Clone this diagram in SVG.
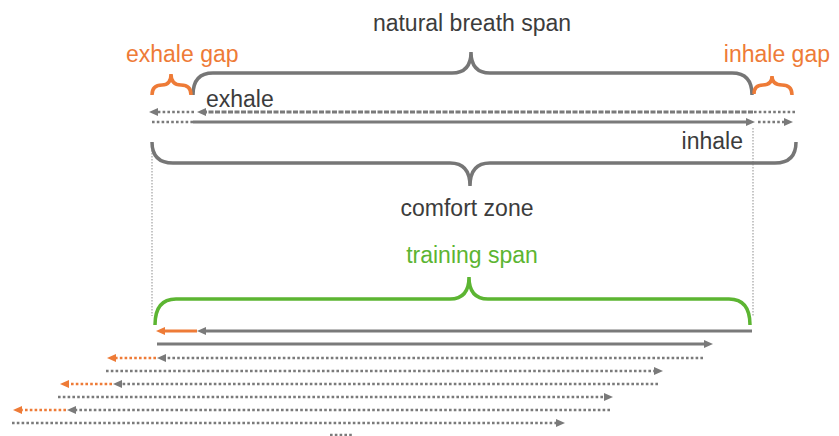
<svg xmlns="http://www.w3.org/2000/svg" width="839" height="436" viewBox="0 0 839 436">
  <style>
    text { font-family: "Liberation Sans", Arial, sans-serif; font-size: 23px; }
    .lbl { fill: #3c3c3c; }
    .org { fill: #ee7b37; }
    .grn { fill: #5cb532; }
    .brace { fill: none; stroke: #767676; stroke-width: 3.5; stroke-linecap: butt; }
    .brace-o { fill: none; stroke: #ee7b37; stroke-width: 3.5; }
    .brace-g { fill: none; stroke: #5cb532; stroke-width: 3.5; }
    .solid { stroke: #7a7a7a; stroke-width: 3; fill: none; }
    .dash { stroke: #7a7a7a; stroke-width: 3; fill: none; stroke-dasharray: 5 1.5; }
    .dot { stroke: #7a7a7a; stroke-width: 2.6; fill: none; stroke-dasharray: 2.6 2.2; }
    .dot-o { stroke: #ee7b37; stroke-width: 2.6; fill: none; stroke-dasharray: 2.6 2.2; }
    .solid-o { stroke: #ee7b37; stroke-width: 3; fill: none; }
    .guide { stroke: #b4b4b4; stroke-width: 1.5; fill: none; stroke-dasharray: 1.5 1.5; }
  </style>
  <defs>
    <marker id="ag" viewBox="0 0 9 8" markerWidth="9" markerHeight="8" refX="2" refY="4" orient="auto" markerUnits="userSpaceOnUse">
      <path d="M0,0 L9,4 L0,8 z" fill="#7a7a7a"/>
    </marker>
    <marker id="ao" viewBox="0 0 9 8" markerWidth="9" markerHeight="8" refX="2" refY="4" orient="auto" markerUnits="userSpaceOnUse">
      <path d="M0,0 L9,4 L0,8 z" fill="#ee7b37"/>
    </marker>
  </defs>

  <!-- vertical guides -->
  <g id="guides">
    <line class="guide" x1="152" y1="150" x2="152" y2="316"/>
    <line class="guide" x1="753" y1="128" x2="753" y2="316"/>
  </g>

  <!-- braces -->
  <g id="natural-breath-span">
    <path class="brace" d="M193,95 Q193,73 213,73 L452,73 Q471,73 471,52 Q471,73 490,73 L732,73 Q752,73 752,95"/>
    <text class="lbl" x="472" y="31" text-anchor="middle">natural breath span</text>
  </g>
  <g id="exhale-gap">
    <path class="brace-o" d="M152,95 Q152,85 162,85 Q171,85 171,74 Q171,85 181,85 Q191,85 191,95"/>
    <text class="org" x="126" y="62">exhale gap</text>
  </g>
  <g id="inhale-gap">
    <path class="brace-o" d="M754,94 Q754,85 763,85 Q772,85 772,76 Q772,85 782,85 Q792,85 792,95"/>
    <text class="org" x="830" y="62" text-anchor="end">inhale gap</text>
  </g>
  <g id="comfort-zone">
    <path class="brace" d="M152,142 Q152,163 173,163 L450,163 Q470,163 470,186 Q470,163 490,163 L775,163 Q796,163 796,142"/>
    <text class="lbl" x="467" y="216" text-anchor="middle">comfort zone</text>
  </g>
  <g id="training-span">
    <path class="brace-g" d="M155,325 Q155,299 176,299 L450,299 Q469,299 469,277 Q469,299 488,299 L729,299 Q750,299 750,325"/>
    <text class="grn" x="472" y="263" text-anchor="middle">training span</text>
  </g>

  <g id="labels">
    <text class="lbl" x="206" y="107">exhale</text>
    <text class="lbl" x="743" y="149" text-anchor="end">inhale</text>
  </g>

  <!-- breath arrows -->
  <g id="connectors">
    <!-- natural exhale / inhale -->
    <line class="dot" x1="795" y1="112" x2="753" y2="112"/>
    <line class="dash" x1="753" y1="112" x2="204" y2="112" marker-end="url(#ag)"/>
    <line class="dot" x1="194" y1="112" x2="156" y2="112" marker-end="url(#ag)"/>
    <line class="dot" x1="152" y1="122" x2="193" y2="122"/>
    <line class="solid" x1="193" y1="122" x2="748" y2="122" marker-end="url(#ag)"/>
    <line class="dot" x1="758" y1="122" x2="786" y2="122" marker-end="url(#ag)"/>

    <!-- training cycle -->
    <line class="solid" x1="752" y1="331" x2="204" y2="331" marker-end="url(#ag)"/>
    <line class="solid-o" x1="197" y1="331" x2="163" y2="331" marker-end="url(#ao)"/>
    <line class="solid" x1="157" y1="344" x2="706" y2="344" marker-end="url(#ag)"/>

    <!-- progressive cycles -->
    <line class="dot" x1="703" y1="358" x2="164" y2="358" marker-end="url(#ag)"/>
    <line class="dot-o" x1="156" y1="358" x2="114" y2="358" marker-end="url(#ao)"/>
    <line class="dot" x1="106" y1="371" x2="656" y2="371" marker-end="url(#ag)"/>

    <line class="dot" x1="658" y1="384" x2="120" y2="384" marker-end="url(#ag)"/>
    <line class="dot-o" x1="112" y1="384" x2="67" y2="384" marker-end="url(#ao)"/>
    <line class="dot" x1="58" y1="397" x2="606" y2="397" marker-end="url(#ag)"/>

    <line class="dot" x1="610" y1="410" x2="74" y2="410" marker-end="url(#ag)"/>
    <line class="dot-o" x1="66" y1="410" x2="20" y2="410" marker-end="url(#ao)"/>
    <line class="dot" x1="12" y1="423" x2="558" y2="423" marker-end="url(#ag)"/>

    <line class="dot" x1="330" y1="435" x2="352" y2="435"/>
  </g>
</svg>
